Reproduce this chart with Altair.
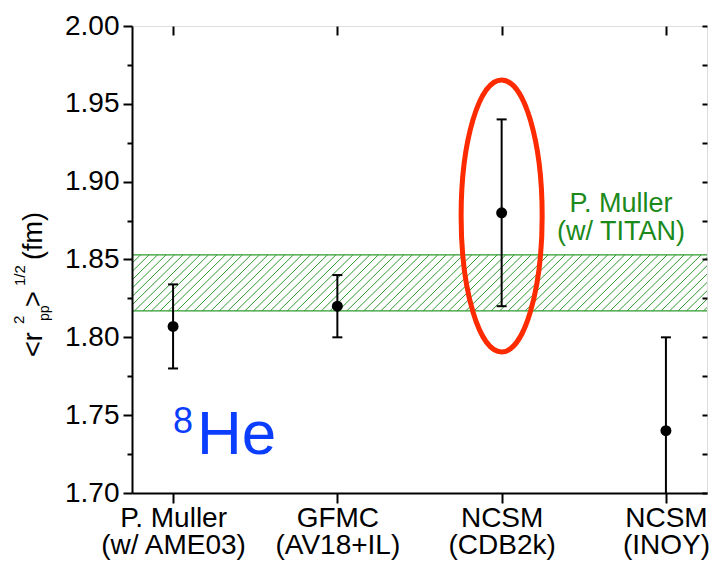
import json

import altair as alt
import pandas as pd

# ---- data -------------------------------------------------------------
CATEGORY_POS = [1, 2, 3, 4]
LABEL_LINE1 = ["P. Muller", "GFMC", "NCSM", "NCSM"]
LABEL_LINE2 = ["(w/ AME03)", "(AV18+IL)", "(CDB2k)", "(INOY)"]
RADIUS = [1.807, 1.820, 1.880, 1.740]
RADIUS_LOW = [1.780, 1.800, 1.820, 1.680]
RADIUS_HIGH = [1.834, 1.840, 1.940, 1.800]

# TITAN measurement shown as a hatched band
BAND_LOW = [1.817]
BAND_HIGH = [1.853]
BAND_LABEL = ["P. Muller", "(w/ TITAN)"]

# highlighted calculation (ringed)
HIGHLIGHT_POS = [3]
HIGHLIGHT_RADIUS = [1.878]

Y_TICKS = [1.700, 1.725, 1.750, 1.775, 1.800, 1.825, 1.850, 1.875,
           1.900, 1.925, 1.950, 1.975, 2.000]

# ---- styling ----------------------------------------------------------
FONT = "Liberation Sans"
GREEN = "#2e9a2e"
GREEN_TEXT = "#1b8a1b"
RED = "#fe2a00"
BLUE = "#0b3dff"
W, H = 575, 467
LEFT, TOP = 132, 26

points = pd.DataFrame({
    "pos": CATEGORY_POS,
    "r": RADIUS,
    "lo": RADIUS_LOW,
    "hi": RADIUS_HIGH,
})
band = pd.DataFrame({"lo": BAND_LOW, "hi": BAND_HIGH})
ring = pd.DataFrame({"pos": HIGHLIGHT_POS, "r": HIGHLIGHT_RADIUS})
one = pd.DataFrame({"k": [0]})

x_scale = alt.Scale(domain=[0.75, 4.25], nice=False, zero=False)
y_scale = alt.Scale(domain=[1.70, 2.00], nice=False, zero=False)

major = "round(datum.value * 1000) % 50 == 0"
label_map = {str(p): [a, b] for p, a, b in zip(CATEGORY_POS, LABEL_LINE1, LABEL_LINE2)}

axis_left = alt.Axis(
    orient="left", values=Y_TICKS, title=None, grid=False,
    labelExpr=f"{major} ? format(datum.value, '.2f') : ''",
    tickSize={"condition": {"test": major, "value": 9}, "value": 5},
    tickWidth=2, tickColor="black", domainWidth=2, domainColor="black",
    labelFont=FONT, labelFontSize=28, labelColor="black", labelPadding=4,
    labelOverlap=False, zindex=1,
)
axis_right = alt.Axis(
    orient="right", values=Y_TICKS, title=None, grid=False, labels=False,
    domain=False, tickSize=5, offset=-5, tickWidth=2, tickColor="black", zindex=1,
)
axis_bottom = alt.Axis(
    orient="bottom", values=CATEGORY_POS, title=None, grid=False,
    labelExpr=json.dumps(label_map) + "[datum.value]",
    tickSize=10, tickWidth=2, tickColor="black", domainWidth=2, domainColor="black",
    labelFont=FONT, labelFontSize=28, labelColor="black", labelPadding=1,
    labelLineHeight=27, labelFlush=False, labelOverlap=False, zindex=1,
)
axis_top = alt.Axis(
    orient="top", values=CATEGORY_POS, title=None, grid=False, labels=False,
    domain=False, tickSize=9, offset=-9, tickWidth=2, tickColor="black", zindex=1,
)

# hatched band: diagonal strokes generated inside the spec, clipped to the plot
hatch = (
    alt.Chart(alt.sequence(0.30, 4.25, 0.0517, as_="s"))
    .transform_calculate(
        s2="datum.s + 0.347",
        lo=str(BAND_LOW[0]),
        hi=str(BAND_HIGH[0]),
    )
    .mark_rule(clip=True, color=GREEN, strokeWidth=1)
    .encode(
        x=alt.X("s:Q", scale=x_scale, axis=None),
        x2="s2:Q",
        y=alt.Y("lo:Q", scale=y_scale, axis=None),
        y2="hi:Q",
    )
)
band_low_edge = alt.Chart(band).mark_rule(color=GREEN, strokeWidth=1.3).encode(
    y=alt.Y("lo:Q", scale=y_scale, axis=None))
band_high_edge = alt.Chart(band).mark_rule(color=GREEN, strokeWidth=1.3).encode(
    y=alt.Y("hi:Q", scale=y_scale, axis=None))

bars = alt.Chart(points).mark_rule(color="black", strokeWidth=2, clip=True).encode(
    x=alt.X("pos:Q", scale=x_scale, axis=axis_bottom),
    y=alt.Y("lo:Q", scale=y_scale, axis=axis_left),
    y2="hi:Q",
)
cap_lo = alt.Chart(points).mark_tick(
    orient="horizontal", size=10, thickness=2, color="black", opacity=1, clip=True
).encode(x=alt.X("pos:Q", scale=x_scale, axis=None), y=alt.Y("lo:Q", scale=y_scale, axis=None))
cap_hi = alt.Chart(points).mark_tick(
    orient="horizontal", size=10, thickness=2, color="black", opacity=1, clip=True
).encode(x=alt.X("pos:Q", scale=x_scale, axis=None), y=alt.Y("hi:Q", scale=y_scale, axis=None))
dots = alt.Chart(points).mark_circle(size=120, color="black", opacity=1).encode(
    x=alt.X("pos:Q", scale=x_scale, axis=axis_top),
    y=alt.Y("r:Q", scale=y_scale, axis=axis_right),
)

ELLIPSE_PATH = ("M0,-1C0.1646,-1,0.298,-0.5523,0.298,0C0.298,0.5523,0.1646,1,0,1"
                "C-0.1646,1,-0.298,0.5523,-0.298,0C-0.298,-0.5523,-0.1646,-1,0,-1Z")
ellipse = alt.Chart(ring).mark_point(
    shape=ELLIPSE_PATH, size=272 * 272, filled=False, stroke=RED,
    strokeWidth=5, opacity=1,
).encode(x=alt.X("pos:Q", scale=x_scale, axis=None), y=alt.Y("r:Q", scale=y_scale, axis=None))


def label(text, x, y, size, color="black", angle=0, align="left", **kw):
    return alt.Chart(one).mark_text(
        font=FONT, fontSize=size, color=color, angle=angle, align=align,
        baseline="alphabetic", **kw,
    ).encode(x=alt.value(x - LEFT), y=alt.value(y - TOP), text=alt.value(text))


band_text = label("\n".join(BAND_LABEL), 621, 212, 27, GREEN_TEXT, align="center",
                  lineBreak="\n", lineHeight=28)
isotope = [
    label("8", 173, 433, 36, BLUE),
    label("He", 197, 454, 62, BLUE),
]
y_title = [
    label("<r", 42, 357, 27, angle=270),
    label("2", 24, 324, 15, angle=270),
    label("pp", 49, 321, 14, angle=270),
    label(">", 42, 307, 27, angle=270),
    label("1/2", 25, 286, 15, angle=270),
    label("(fm)", 42, 260, 27, angle=270),
]

chart = (
    alt.layer(
        hatch, band_low_edge, band_high_edge, bars, cap_lo, cap_hi, dots,
        ellipse, band_text, *isotope, *y_title,
    )
    .resolve_axis(x="independent", y="independent")
    .properties(
        width=W, height=H,
        autosize=alt.AutoSizeParams(type="none"),
        padding={"left": LEFT, "top": TOP, "right": 714 - LEFT - W, "bottom": 562 - TOP - H},
    )
    .configure_view(stroke="black", strokeWidth=2)
    .configure(background="white")
)

chart.save("out.html", embed_options={"renderer": "svg", "actions": False})
